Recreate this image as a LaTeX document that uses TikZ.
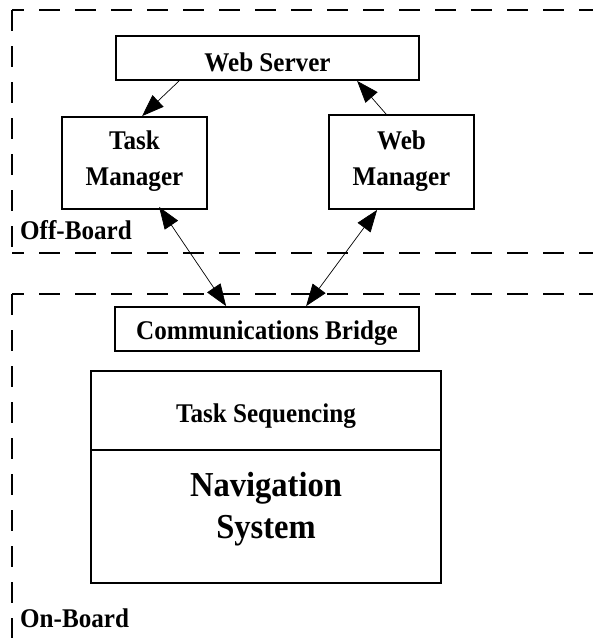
\documentclass[tikz,border=0pt]{standalone}
\usepackage{fontspec}
\setmainfont[FakeStretch=0.93]{Liberation Serif}
\usetikzlibrary{arrows.meta,calc}
\tikzset{
  box/.style={draw, line width=1.8pt, rectangle, inner sep=0pt, align=center,
              font=\fontsize{27}{36}\selectfont\bfseries},
  bignav/.style={box, line width=2.4pt, font=\fontsize{35}{42}\selectfont\bfseries},
  region/.style={line width=1.4pt, dash pattern=on 21pt off 15pt},
  conn/.style={line width=0.7pt, -{Triangle[length=22pt,width=16pt]}},
  biconn/.style={line width=0.7pt, {Triangle[length=22pt,width=16pt]}-{Triangle[length=22pt,width=16pt]}},
  lbl/.style={anchor=base west, inner sep=0pt, font=\fontsize{27}{30}\selectfont\bfseries}
}
\begin{document}
\begin{tikzpicture}[x=1pt,y=-1pt]
\useasboundingbox (0,0) rectangle (593,638);
\fill[white] (0,0) rectangle (593,638);
% region corners
\coordinate (offtl) at (12,10);
\coordinate (offbl) at (12,253);
\coordinate (ontl) at (12,294);
% off-board region
\draw[region, dash phase=9pt] (offtl) -- (593,10);
\draw[region] (offtl) -- (offbl);
\draw[region, dash phase=9pt] (offbl) -- (593,253);
% on-board region
\draw[region, dash phase=9pt] (ontl) -- (593,294);
\draw[region] (ontl) -- (12,638);
\node[lbl] (off) at (20,239) {Off-Board};
\node[lbl] (on) at (20,627) {On-Board};
% nodes
\node[box, minimum width=303pt, minimum height=44pt, text height=28pt] (ws) at (267.5,58) {Web Server};
\node[box, minimum width=145pt, minimum height=92pt, text depth=10pt] (tm) at (134.5,163) {Task\\Manager};
\node[box, minimum width=145pt, minimum height=94pt, text depth=8pt] (wm) at (401.5,162) {Web\\Manager};
\node[box, minimum width=304pt, minimum height=44pt, text height=26pt] (cb) at (267,329) {Communications Bridge};
\node[box, minimum width=350pt, minimum height=79pt, text height=30pt] (ts) at (266,410.5) {Task Sequencing};
\node[bignav, minimum width=350pt, minimum height=133pt, text depth=22pt] (nav) at (266,516.5) {Navigation\\System};
% connectors
\draw[conn] ($(ws.south west)+(64,0)$) -- ($(tm.north west)+(81,0)$);
\draw[conn] ($(wm.north west)+(58,0)$) -- ($(ws.south west)+(242,0)$);
\draw[biconn] ($(tm.south west)+(98,-3)$) -- ($(cb.north west)+(112,0)$);
\draw[biconn] ($(wm.south west)+(49,0)$) -- ($(cb.north west)+(192,0)$);
\end{tikzpicture}
\end{document}
